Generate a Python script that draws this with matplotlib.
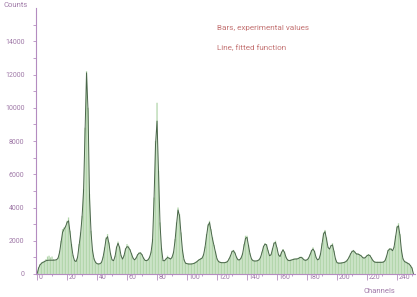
import numpy as np
import matplotlib
matplotlib.use('Agg')
import matplotlib.pyplot as plt
import matplotlib.transforms as mtransforms

plt.rcParams['font.family'] = ['Roboto', 'DejaVu Sans']

# fitted function, one value per channel (counts)
fit = [0, 350, 550, 650, 700, 750, 800, 820, 830, 830,
       830, 830, 840, 860, 950, 1300, 1900, 2500, 2700, 2850,
       3100, 3200, 2500, 1700, 1100, 800, 750, 1000, 1700, 2400,
       3400, 5000, 8500, 12100, 9800, 4600, 2500, 1400, 900, 700,
       620, 600, 620, 700, 1000, 1500, 2100, 2250, 1800, 1200,
       850, 800, 1050, 1600, 1850, 1600, 1100, 900, 1100, 1500,
       1650, 1600, 1450, 1200, 950, 850, 950, 1150, 1250, 1270,
       1150, 950, 820, 800, 850, 1000, 1300, 2000, 4500, 7800,
       9200, 6000, 3000, 1500, 800, 800, 900, 1000, 950, 900,
       1000, 1300, 2000, 3000, 3850, 3500, 2400, 1400, 850, 650,
       620, 600, 600, 600, 620, 650, 700, 780, 850, 900,
       950, 1150, 1600, 2300, 2900, 3100, 2600, 2100, 1700, 1300,
       900, 750, 700, 680, 680, 680, 700, 750, 900, 1100,
       1350, 1400, 1250, 1000, 850, 850, 950, 1200, 1700, 2150,
       2200, 1700, 1200, 900, 800, 780, 780, 800, 850, 1000,
       1300, 1650, 1800, 1750, 1400, 1100, 1150, 1500, 1850, 1900,
       1550, 1150, 1050, 1300, 1450, 1300, 1000, 850, 800, 820,
       850, 880, 900, 900, 920, 980, 1000, 950, 850, 820,
       850, 950, 1150, 1400, 1500, 1350, 1000, 850, 900, 1200,
       1800, 2400, 2550, 2100, 1600, 1500, 1700, 1750, 1350, 900,
       680, 650, 650, 660, 680, 700, 750, 850, 1000, 1200,
       1350, 1400, 1300, 1200, 1200, 1150, 1100, 1000, 950, 1000,
       1100, 1150, 1100, 950, 800, 720, 700, 700, 700, 700,
       700, 720, 800, 1050, 1400, 1500, 1500, 1400, 1600, 2200,
       2800, 2900, 2300, 1400, 900, 750, 700, 650, 600, 500,
       350, 0]

# experimental values, one bar per channel (counts)
bars = [0, 400, 600, 700, 750, 800, 900, 1050, 1100, 1000,
        1050, 900, 850, 900, 1000, 1400, 2000, 2700, 2800, 2900,
        3200, 3400, 2600, 1800, 1150, 850, 800, 1050, 1800, 2500,
        3500, 5100, 8800, 12200, 10000, 4800, 2600, 1450, 950, 750,
        650, 640, 650, 750, 1050, 1600, 2200, 2400, 1900, 1250,
        900, 850, 1100, 1650, 1950, 1650, 1150, 950, 1150, 1550,
        1800, 1700, 1500, 1250, 1000, 900, 1000, 1200, 1300, 1300,
        1200, 1000, 850, 850, 900, 1050, 1350, 2100, 4600, 8000,
        10300, 6200, 3100, 1550, 850, 850, 950, 1100, 1000, 950,
        1050, 1350, 2100, 3100, 4000, 3600, 2500, 1450, 900, 700,
        650, 650, 640, 650, 660, 700, 750, 800, 900, 950,
        1000, 1200, 1650, 2400, 3000, 3200, 2700, 2200, 1750, 1350,
        950, 800, 750, 720, 720, 720, 750, 800, 950, 1150,
        1400, 1450, 1300, 1050, 900, 900, 1000, 1250, 1800, 2300,
        2300, 1750, 1250, 950, 850, 820, 820, 850, 900, 1050,
        1350, 1700, 1850, 1800, 1450, 1150, 1200, 1550, 1900, 2000,
        1600, 1200, 1100, 1350, 1500, 1350, 1050, 900, 850, 870,
        900, 930, 950, 950, 970, 1030, 1050, 1000, 900, 870,
        900, 1000, 1200, 1450, 1600, 1400, 1050, 900, 950, 1250,
        1850, 2500, 2650, 2200, 1650, 1550, 1750, 1850, 1400, 950,
        720, 700, 700, 710, 720, 750, 800, 900, 1050, 1250,
        1400, 1450, 1350, 1250, 1250, 1200, 1150, 1050, 1000, 1050,
        1150, 1200, 1150, 1000, 850, 770, 750, 750, 750, 750,
        750, 770, 850, 1100, 1450, 1550, 1550, 1450, 1650, 2300,
        2900, 3050, 2400, 1450, 950, 800, 750, 700, 650, 550,
        400, 0]

channels = np.arange(len(fit))
xticks = np.arange(0, 241, 20)
yticks = np.arange(0, 14001, 2000)

axis_col = '#b48cc0'
label_col = '#a07aa8'

fig = plt.figure(figsize=(4.17, 2.97), dpi=100)
ax = fig.add_axes([36/417, 23/297, 379/417, 266/297])

ax.bar(channels, bars, width=0.85, color='#b3d6ac', linewidth=0, snap=False)
ax.plot(channels, fit, color='#4a654a', linewidth=0.7)

ax.set_xlim(-0.7, 252)
ax.set_ylim(0, 16000)

for s in ['top', 'right']:
    ax.spines[s].set_visible(False)
for s in ['left', 'bottom']:
    ax.spines[s].set_color(axis_col)
    ax.spines[s].set_linewidth(0.8)

ax.set_xticks(xticks)
ax.set_xticks(np.arange(10, 251, 20), minor=True)
ax.set_xticklabels([str(t) for t in xticks])
ax.set_yticks(yticks)
ax.set_yticks(np.arange(1000, 16001, 2000), minor=True)
ax.set_yticklabels([str(t) for t in yticks])

ax.tick_params(axis='x', which='major', length=4.3, width=0.6, color=axis_col,
               labelcolor=label_col, labelsize=5, pad=-4.3)
ax.tick_params(axis='x', which='minor', length=1.5, width=0.6, color=axis_col)
ax.tick_params(axis='y', which='both', length=2.2, width=0.6, color=axis_col,
               labelcolor=label_col, labelsize=5, pad=6)

offset = mtransforms.ScaledTranslation(1.5/100, 0, fig.dpi_scale_trans)
for lab in ax.get_xticklabels():
    lab.set_horizontalalignment('left')
    lab.set_transform(lab.get_transform() + offset)

fig.text(3/417, 1 - 5/297, 'Counts', color=label_col, fontsize=5.5,
         ha='left', va='center')
fig.text(363/417, 1 - 291/297, 'Channels', color=label_col, fontsize=5.5,
         ha='left', va='center')

fig.text(217/417, 1 - 28/297, 'Bars, experimental values', color='#c47474',
         fontsize=5.9, ha='left', va='center')
fig.text(217/417, 1 - 48/297, 'Line, fitted function', color='#c47474',
         fontsize=5.9, ha='left', va='center')

fig.savefig('out.png', dpi=100)
